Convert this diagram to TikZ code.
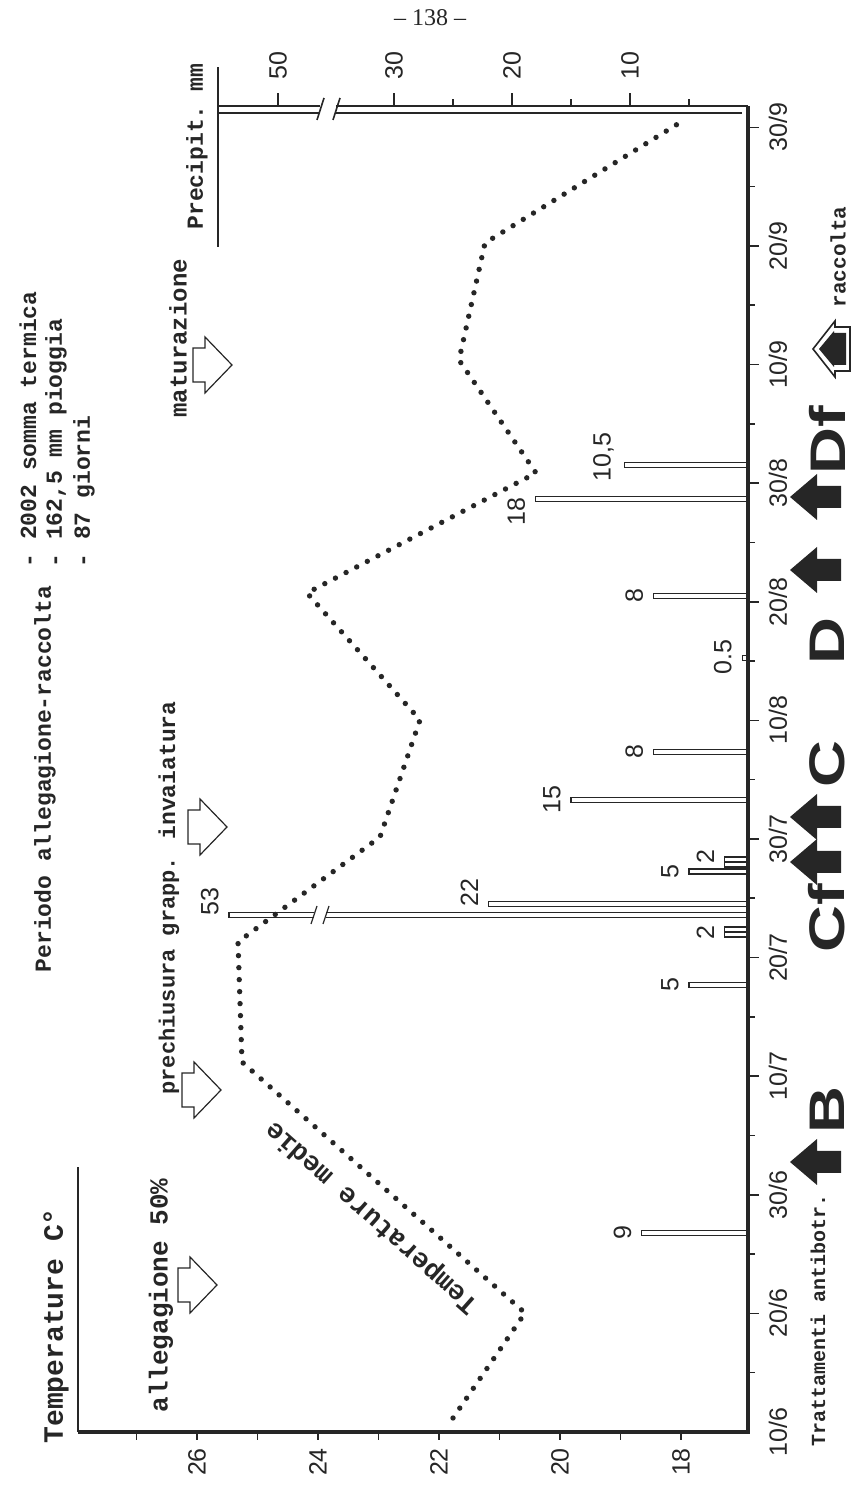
\documentclass[tikz,border=0pt]{standalone}
\usepackage{fontspec}
\setmainfont{Liberation Serif}
\setsansfont{Liberation Sans}
\setmonofont{Liberation Mono}
\usetikzlibrary{calc}

\tikzstyle{axisline}=[line width=1.6pt]
\tikzstyle{thinline}=[line width=0.8pt]
\tikzstyle{tick}=[line width=0.8pt]
\tikzstyle{numlabel}=[font=\sffamily\fontsize{12.5}{12.5}\selectfont, inner sep=0pt, transform shape]
\tikzstyle{twtext}=[font=\ttfamily\bfseries\fontsize{11.5}{12}\selectfont, inner sep=0pt, transform shape]
\tikzstyle{rain}=[line width=0.6pt]
\tikzstyle{tempdots}=[line width=2.7pt, line cap=round, dash pattern=on 0pt off 6pt]
\tikzstyle{phasearr}=[line width=0.6pt, line join=miter]
\tikzstyle{treatfill}=[fill=black!85]
\tikzstyle{treatletter}=[font=\sffamily\bfseries\fontsize{25}{25}\selectfont, xscale=1.3, inner sep=0pt, transform shape]

\def\mmscale{11.8}
% one rain bar: date position, mm
\newcommand{\precbar}[2]{\draw[rain] (#1-2.5,0) -- (#1-2.5,#2*\mmscale) -- (#1+2.5,#2*\mmscale) -- (#1+2.5,0);}
% open phase arrow: date position, back end
\newcommand{\phasearrow}[2]{\draw[phasearr] (#1-17,#2) -- (#1+17,#2) -- (#1+17,#2-12) -- (#1+28,#2-12) -- (#1,#2-39) -- (#1-28,#2-12) -- (#1-17,#2-12) -- cycle;}
% filled treatment arrow
\newcommand{\treatarrow}[1]{\fill[treatfill] (#1,-42) -- (#1+23,-69) -- (#1+11,-69) -- (#1+11,-93) -- (#1-11,-93) -- (#1-11,-69) -- (#1-23,-69) -- cycle;}

\begin{document}
\begin{tikzpicture}[x=0.5pt, y=0.5pt, black!85]
  \useasboundingbox (0,0) rectangle (859,1492);
  \node (page) at (430,1474) [font=\rmfamily\fontsize{12}{12}\selectfont] {-- 138 --};

  % chart drawn lying on its side: u = date, v = temperature / rain
  \begin{scope}[shift={(748,60)}, rotate=90]

    % axes
    \draw[axisline] (0,670) -- (0,0) -- (1326,0);
    \draw[thinline] (0,670) -- (265,670);
    \draw[thinline] (1326,0) -- (1326,412) (1326,428) -- (1326,530);
    \draw[thinline] (1319,6) -- (1319,412) (1319,428) -- (1319,530);
    \draw[thinline] (1312,431) -- (1334,424) (1312,415) -- (1334,408);
    \draw[thinline] (1185,530) -- (1365,530);

    % date ticks
    \foreach \i in {1,...,11}
      \draw[tick] (\i*118.6,0) -- (\i*118.6,-11);
    \foreach \i in {0,...,10}
      \draw[tick] (\i*118.6+59.3,0) -- (\i*118.6+59.3,-7);
    \foreach \d [count=\i from 0] in {10/6,20/6,30/6,10/7,20/7,30/7,10/8,20/8,30/8,10/9,20/9,30/9}
      \node[numlabel] (date\i) at (\i*118.6,-30) {\d};

    % temperature ticks
    \foreach \t in {18,...,27}
      \draw[tick] (0,{67+(\t-18)*60.5}) -- ++(-8,0);
    \foreach \t in {18,20,22,24,26}
      \node[numlabel] (temp\t) at (-30,{67+(\t-18)*60.5}) {\t};

    % rain ticks
    \foreach \p in {10,20,30}
      \draw[tick] (1326,{\p*\mmscale}) -- ++(13,0);
    \draw[tick] (1326,470) -- ++(13,0);
    \foreach \p in {5,15,25}
      \draw[tick] (1326,{\p*\mmscale}) -- ++(7,0);
    \foreach \p in {10,20,30}
      \node[numlabel] (prec\p) at (1366,{\p*\mmscale}) {\p};
    \node[numlabel] (prec50) at (1366,470) {50};

    % rain bars
    \precbar{199}{9}
    \precbar{447}{5}
    \precbar{497.5}{2} \precbar{502.5}{2}
    \precbar{528}{22}
    \precbar{560.5}{5}
    \precbar{567.5}{2} \precbar{572.5}{2}
    \precbar{632}{15}
    \precbar{680}{8}
    \precbar{774}{0.5}
    \precbar{836}{8}
    \precbar{933}{18}
    \precbar{967}{10.5}
    \draw[rain] (514.5,0) -- (514.5,422) (514.5,434) -- (514.5,519) -- (519.5,519) -- (519.5,434) (519.5,422) -- (519.5,0);
    \draw[rain] (508,437) -- (526,431) (508,425) -- (526,419);

    \node[numlabel, anchor=south] (r1) at (199,{9*\mmscale+10}) {9};
    \node[numlabel, anchor=south] (r2) at (447,{5*\mmscale+10}) {5};
    \node[numlabel, anchor=south] (r3) at (499,{2*\mmscale+10}) {2};
    \node[numlabel, anchor=south] (r4) at (539,{22*\mmscale+10}) {22};
    \node[numlabel, anchor=south] (r5) at (530,529) {53};
    \node[numlabel, anchor=south] (r6) at (560,{5*\mmscale+10}) {5};
    \node[numlabel, anchor=south] (r7) at (575,{2*\mmscale+10}) {2};
    \node[numlabel, anchor=south] (r8) at (632,{15*\mmscale+10}) {15};
    \node[numlabel, anchor=south] (r9) at (680,{8*\mmscale+10}) {8};
    \node[numlabel, anchor=south] (r10) at (775,{0.5*\mmscale+10}) {0.5};
    \node[numlabel, anchor=south] (r11) at (836,{8*\mmscale+10}) {8};
    \node[numlabel, anchor=south] (r12) at (920,{18*\mmscale+10}) {18};
    \node[numlabel, anchor=south] (r13) at (975,{10.5*\mmscale+10}) {10,5};

    % mean temperature
    \draw[tempdots] (14,295) -- (119,223) -- (370,506) -- (490,510) -- (595,368) -- (712,328)
      -- (839,441) -- (959,212) -- (1072,289) -- (1189,263) -- (1310,67);
    \path (119,223) -- (370,506) node[pos=0.47, sloped, transform shape, above=5pt,
      font=\ttfamily\bfseries\fontsize{13.5}{14}\selectfont] (tmed) {Temperature medie};

    % phases
    \phasearrow{147}{570}
    \phasearrow{342}{566}
    \phasearrow{605}{560}
    \phasearrow{1067}{555}
    \node[twtext, anchor=west, font=\ttfamily\bfseries\fontsize{13}{13}\selectfont] (phA) at (19,587) {allegagione 50\%};
    \node[twtext, anchor=west, font=\ttfamily\bfseries\fontsize{11}{11}\selectfont] (phB) at (337,579) {prechiusura grapp.};
    \node[twtext, anchor=west] (phC) at (592,581) {invaiatura};
    \node[twtext, anchor=west, font=\ttfamily\bfseries\fontsize{12}{12}\selectfont] (phD) at (1014,570) {maturazione};

    % titles
    \node[twtext] (title) at (653,703) {Periodo allegagione-raccolta};
    \node[twtext, anchor=west] (stat1) at (864,720) {- 2002 somma termica};
    \node[twtext, anchor=west] (stat2) at (864,692) {- 162,5 mm pioggia};
    \node[twtext, anchor=west] (stat3) at (864,664) {- 87 giorni};
    \node[twtext, anchor=west] (preclab) at (1202,551) {Precipit. mm};
    \node[twtext, anchor=west, font=\ttfamily\bfseries\fontsize{14}{14}\selectfont] (templab) at (-12,692) {Temperature C°};

    % treatments
    \treatarrow{270}
    \treatarrow{570}
    \treatarrow{615}
    \treatarrow{862}
    \treatarrow{935}
    \node[treatletter] (lB) at (322,-79) {B};
    \node[treatletter] (lCf) at (514,-79) {Cf};
    \node[treatletter] (lC) at (668,-79) {C};
    \node[treatletter] (lD) at (791,-79) {D};
    \node[treatletter] (lDf) at (992,-79) {Df};
    \node[twtext, anchor=west, font=\ttfamily\bfseries\fontsize{10}{10}\selectfont] (trlab) at (-15,-70) {Trattamenti antibotr.};

    % harvest
    \draw[thinline, fill=white] (1083,-65) -- (1111,-87) -- (1105,-87) -- (1105,-102) -- (1061,-102) -- (1061,-87) -- (1055,-87) -- cycle;
    \fill (1083,-71) -- (1101,-86) -- (1099,-86) -- (1099,-98) -- (1067,-98) -- (1067,-86) -- (1065,-86) -- cycle;
    \node[twtext, font=\ttfamily\bfseries\fontsize{10.5}{10.5}\selectfont] (harvest) at (1175,-90) {raccolta};

  \end{scope}
\end{tikzpicture}
\end{document}
